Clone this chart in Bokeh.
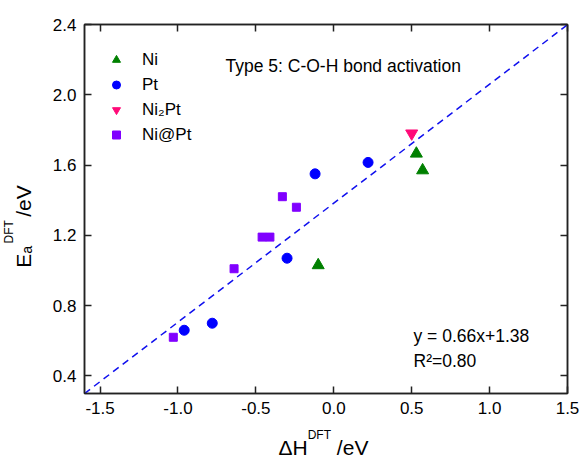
from bokeh.plotting import figure
from bokeh.models import (Range1d, LinearAxis, FixedTicker, Label, Legend,
                          LegendItem, PrintfTickFormatter, Title)
from bokeh.embed import file_html
from bokeh.resources import INLINE

# ---------------- data ----------------
ni_x = [-0.10, 0.53, 0.57]
ni_y = [1.03, 1.665, 1.57]
pt_x = [-0.96, -0.78, -0.30, -0.12, 0.22]
pt_y = [0.66, 0.70, 1.07, 1.55, 1.615]
ni2pt_x = [0.50]
ni2pt_y = [1.78]
nipt_x = [-1.03, -0.64, -0.46, -0.41, -0.33, -0.24]
nipt_y = [0.62, 1.01, 1.19, 1.19, 1.42, 1.36]

fit_x = [-1.6, 1.5]
fit_slope = 0.677
fit_intercept = 1.383

x_ticks = [-1.5, -1.0, -0.5, 0.0, 0.5, 1.0, 1.5]
y_ticks = [0.4, 0.8, 1.2, 1.6, 2.0, 2.4]

FONT = "Liberation Sans"
NB = "\u00a0"
W, H = 582, 457
FL, FR, FT, FB = 84, 567, 24, 393  # frame edges in canvas pixels

p = figure(width=W, height=H, output_backend="svg", toolbar_location=None,
           x_range=Range1d(-1.6, 1.5), y_range=Range1d(0.3, 2.4),
           min_border_left=FL, min_border_right=W - FR,
           min_border_top=FT, min_border_bottom=H - FB)
p.xgrid.visible = False
p.ygrid.visible = False
p.outline_line_color = "#222222"
p.outline_line_width = 1.5
p.background_fill_color = "white"
p.border_fill_color = "white"

def style_axis(ax, ticks, show_labels):
    ax.ticker = FixedTicker(ticks=ticks)
    ax.formatter = PrintfTickFormatter(format="%.1f")
    ax.axis_line_color = "#222222"
    ax.axis_line_width = 1.5
    ax.major_tick_line_color = "#222222"
    ax.major_tick_line_width = 1.5
    ax.major_tick_in = 7
    ax.major_tick_out = 0
    ax.minor_tick_line_color = None
    ax.major_label_text_font = FONT
    ax.major_label_text_color = "black"
    ax.axis_label_text_font = FONT
    ax.axis_label_text_font_style = "normal"
    ax.axis_label_text_color = "black"
    if show_labels:
        ax.major_label_text_font_size = "17px"
        ax.major_label_standoff = 8
    else:
        ax.major_label_text_font_size = "0px"
        ax.major_label_standoff = 0

xax = p.xaxis[0]
yax = p.yaxis[0]
style_axis(xax, x_ticks, True)
style_axis(yax, y_ticks, True)
top_ax = LinearAxis()
right_ax = LinearAxis()
style_axis(top_ax, x_ticks, False)
style_axis(right_ax, y_ticks, False)
p.add_layout(top_ax, "above")
p.add_layout(right_ax, "right")

# y axis title: E_a^DFT /eV  (main text on the axis, superscript as an outer title)
yax.axis_label = "E\u2090" + NB * 5 + "/eV" + NB * 6
yax.axis_label_text_font_size = "21px"
yax.axis_label_standoff = 15
p.add_layout(Title(text="DFT", text_font=FONT, text_font_size="12px",
                   text_font_style="normal", text_color="black",
                   align="left", offset=150, standoff=-25,
                   vertical_align="middle"), "left")

# x axis title: ΔH^DFT /eV  (superscript on the axis, main text as an outer title)
xax.axis_label = "DFT" + NB * 4
xax.axis_label_text_font_size = "12px"
xax.axis_label_standoff = 11
p.add_layout(Title(text="\u0394H" + NB * 5 + "/eV", text_font=FONT,
                   text_font_size="21px", text_font_style="normal",
                   text_color="black", align="left", offset=194,
                   standoff=-19, vertical_align="middle"), "below")

# fit line
fit_y = [fit_slope * x + fit_intercept for x in fit_x]
p.line(fit_x, fit_y, line_color="#1010ee", line_width=1.5, line_dash="7 5")

# data
r_ni = p.scatter(ni_x, ni_y, marker="triangle", size=12, color="#008000")
r_pt = p.scatter(pt_x, pt_y, marker="circle", size=10, color="#0000ff")
r_n2 = p.scatter(ni2pt_x, ni2pt_y, marker="inverted_triangle", size=12, color="#ff0a78")
r_np = p.scatter(nipt_x, nipt_y, marker="square", size=8, color="#8000ff")

legend = Legend(items=[LegendItem(label="Ni", renderers=[r_ni]),
                       LegendItem(label="Pt", renderers=[r_pt]),
                       LegendItem(label="Ni\u2082Pt", renderers=[r_n2]),
                       LegendItem(label="Ni@Pt", renderers=[r_np])],
                location=(22, 248), margin=0, padding=0, spacing=4,
                glyph_width=20, glyph_height=21, label_height=21,
                label_standoff=16, label_text_font=FONT,
                label_text_font_size="17px", label_text_color="black",
                border_line_color=None, background_fill_alpha=0)
p.add_layout(legend, "center")

def lab(text, cx, cy, size):
    p.add_layout(Label(x=cx - FL, y=FB - cy, x_units="screen", y_units="screen",
                       text=text, text_font=FONT, text_font_size=size,
                       text_color="black", text_align="left",
                       text_baseline="alphabetic"))

# annotations inside the frame
lab("Type 5: C-O-H bond activation", 225, 65, "17.5px")
lab("y = 0.66x+1.38", 413, 335, "17.5px")
lab("R\u00b2=0.80", 413, 360, "17.5px")

open("out.html", "w").write(file_html(p, INLINE))
